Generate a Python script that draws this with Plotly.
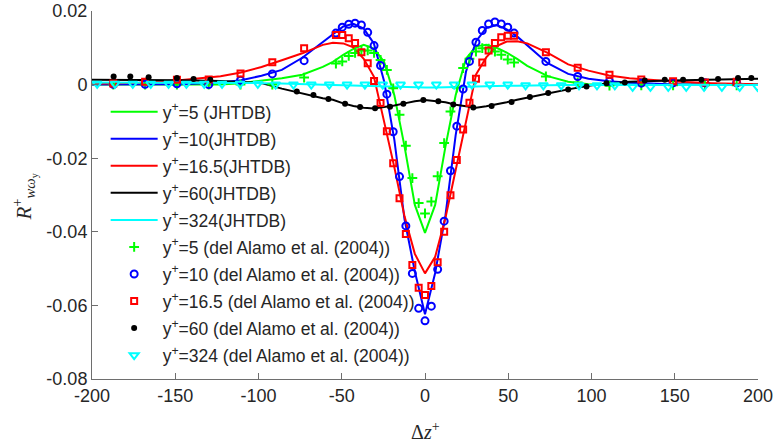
import plotly.graph_objects as go

# ---------------- data ----------------
# JHTDB curves (separation grid, dz+)
dz_jhtdb = [-200, -171.9, -147.4, -122.8, -110.5, -98.2, -86.0, -73.7, -61.4, -55.3, -49.1,
            -43.0, -36.8, -30.7, -24.6, -18.4, -12.3, -6.1, 0, 6.1, 12.3, 18.4, 24.6, 30.7,
            36.8, 43.0, 49.1, 55.3, 61.4, 73.7, 86.0, 98.2, 110.5, 122.8, 147.4, 171.9, 200]

jh_y5 = [0.0, 0.0, 0.0, 0.0, 0.0004, 0.0010, 0.0017, 0.0027, 0.0048, 0.0062, 0.0081,
         0.0097, 0.0108, 0.0098, 0.0062, -0.0029, -0.0168, -0.0327, -0.0403, -0.0327, -0.0168, -0.0029,
         0.0070, 0.0104, 0.0108, 0.0100, 0.0087, 0.0070, 0.0051, 0.0023, 0.0008, 0.0001,
         0.0, 0.0, 0.0, 0.0, 0.0]
jh_y10 = [0.0, 0.0, 0.0001, 0.0006, 0.0012, 0.0024, 0.0040, 0.0073, 0.0116, 0.0138, 0.0158,
          0.0165, 0.0152, 0.0112, 0.0010, -0.0150, -0.0366, -0.0508, -0.0624, -0.0512, -0.0355, -0.0138,
          0.0035, 0.0118, 0.0154, 0.0162, 0.0150, 0.0131, 0.0106, 0.0058, 0.0029, 0.0016,
          0.0009, 0.0005, 0.0001, 0.0, 0.0]
jh_y165 = [0.0002, 0.0005, 0.0012, 0.0023, 0.0033, 0.0048, 0.0066, 0.0085, 0.0108, 0.0114, 0.0112,
           0.0101, 0.0070, 0.0022, -0.0100, -0.0225, -0.0358, -0.0460, -0.0513, -0.0468, -0.0362, -0.0232,
           -0.0103, 0.0028, 0.0074, 0.0105, 0.0117, 0.0118, 0.0112, 0.0086, 0.0055, 0.0038,
           0.0025, 0.0017, 0.0009, 0.0004, 0.0001]
jh_y60 = [0.0013, 0.0013, 0.0012, 0.0010, 0.0007, 0.0004, -0.0011, -0.0025, -0.0037, -0.0041, -0.0051,
          -0.0058, -0.0063, -0.0065, -0.0062, -0.0057, -0.0051, -0.0045, -0.0042, -0.0044, -0.0048, -0.0055,
          -0.0060, -0.0063, -0.0059, -0.0054, -0.0048, -0.0041, -0.0035, -0.0024, -0.0013, -0.0003,
          0.0004, 0.0008, 0.0011, 0.0014, 0.0016]
jh_y324 = [0.0006, 0.0006, 0.0005, 0.0005, 0.0004, 0.0004, 0.0003, 0.0002, 0.0000, -0.0001, -0.0002,
           -0.0003, -0.0004, -0.0005, -0.0006, -0.0007, -0.0007, -0.0008, -0.0008, -0.0008, -0.0007, -0.0007,
           -0.0006, -0.0005, -0.0004, -0.0004, -0.0003, -0.0003, -0.0002, -0.0002, -0.0001, -0.0001,
           -0.0001, -0.0001, -0.0001, -0.0001, -0.0001]

# del Alamo et al. (2004) points
dz_da = [-187.2, -168.1, -149.0, -129.9, -110.8, -91.7, -72.6,
         -53.5, -49.7, -45.8, -42.0, -38.2, -34.4, -30.6, -26.7, -22.9, -19.1, -15.3, -11.5, -7.6, -3.8,
         0, 3.8, 7.6, 11.5, 15.3, 19.1, 22.9, 26.7, 30.6, 34.4, 38.2, 42.0, 45.8, 49.7, 53.5,
         72.6, 91.7, 110.8, 129.9, 149.0, 168.1, 187.2]
da_y5 = [0.0, 0.0, 0.0, 0.0, 0.0, 0.0, 0.0019,
         0.0057, 0.0063, 0.0078, 0.0086, 0.0093, 0.0093, 0.0086, 0.0067, 0.0040, -0.0010, -0.0082, -0.0166,
         -0.0254, -0.0322, -0.0350, -0.0318, -0.0249, -0.0159, -0.0073, -0.0008, 0.0045, 0.0070, 0.0090,
         0.0099, 0.0098, 0.0090, 0.0081, 0.0068, 0.0060,
         0.0022, 0.0006, -0.0003, -0.0002, -0.0002, -0.0002, -0.0002]
da_y10 = [0.0001, 0.0001, 0.0002, 0.0000, 0.0012, 0.0029, 0.0065,
          0.0140, 0.0156, 0.0164, 0.0167, 0.0162, 0.0142, 0.0106, 0.0052, -0.0026, -0.0128, -0.0250, -0.0384,
          -0.0513, -0.0608, -0.0642, -0.0602, -0.0502, -0.0371, -0.0234, -0.0113, -0.0012, 0.0063, 0.0115,
          0.0147, 0.0165, 0.0170, 0.0165, 0.0156, 0.0140,
          0.0063, 0.0022, 0.0009, 0.0004, 0.0005, 0.0005, 0.0005]
da_y165 = [0.0003, 0.0008, 0.0013, 0.0014, 0.0030, 0.0061, 0.0099,
           0.0135, 0.0135, 0.0126, 0.0113, 0.0088, 0.0058, 0.0010, -0.0050, -0.0127, -0.0214, -0.0309, -0.0406,
           -0.0490, -0.0552, -0.0572, -0.0547, -0.0483, -0.0400, -0.0301, -0.0205, -0.0122, -0.0049, 0.0016,
           0.0060, 0.0093, 0.0113, 0.0129, 0.0133, 0.0133,
           0.0088, 0.0046, 0.0027, 0.0014, 0.0009, 0.0006, 0.0008]

dz_da60 = [-187, -177, -166, -149, -139, -129, -77, -67, -58, -48, -39, -30, -21, -13, -1, 8, 17, 29,
           40, 52, 63, 74, 86, 97, 109, 120, 132, 144, 155, 166, 176, 188, 196]
da_y60 = [0.0022, 0.0022, 0.0020, 0.0018, 0.0015, 0.0013, -0.0019, -0.0028, -0.0039, -0.0052, -0.0061,
          -0.0064, -0.0060, -0.0052, -0.0042, -0.0045, -0.0054, -0.0062, -0.0058, -0.0047, -0.0034,
          -0.0023, -0.0013, -0.0005, 0.0004, 0.0006, 0.0011, 0.0013, 0.0013, 0.0013, 0.0015, 0.0018, 0.0018]

dz_da324 = [-196.9, -186.2, -175.5, -164.7, -154.0, -143.3, -132.6, -121.9, -111.1, -100.4, -89.7,
            -79.0, -68.3, -57.5, -46.8, -36.1, -25.4, -14.7, -3.9, 6.8, 17.5, 28.2, 38.9, 49.7, 60.4,
            71.1, 81.8, 92.5, 103.3, 114.0, 124.7, 135.4, 146.1, 156.9, 167.6, 178.3, 189.0, 199.7]
da_y324 = [0.0002] * 10 + [0.0000] * 14 + [-0.0002] * 6 + [-0.0006] * 8

x_ticks = [-200, -150, -100, -50, 0, 50, 100, 150, 200]
x_ticktext = ["-200", "-150", "-100", "-50", "0", "50", "100", "150", "200"]
y_ticks = [-0.08, -0.06, -0.04, -0.02, 0, 0.02]
y_ticktext = ["-0.08", "-0.06", "-0.04", "-0.02", "0", "0.02"]

# ---------------- figure ----------------
GREEN, BLUE, RED, BLACK, CYAN = "#00ff00", "#0000ff", "#ff0000", "#000000", "#00ffff"

fig = go.Figure()
lines = [
    (jh_y5, GREEN, "y<sup>+</sup>=5 (JHTDB)"),
    (jh_y10, BLUE, "y<sup>+</sup>=10(JHTDB)"),
    (jh_y165, RED, "y<sup>+</sup>=16.5(JHTDB)"),
    (jh_y60, BLACK, "y<sup>+</sup>=60(JHTDB)"),
    (jh_y324, CYAN, "y<sup>+</sup>=324(JHTDB)"),
]
for i, (vals, col, name) in enumerate(lines):
    fig.add_trace(go.Scatter(x=dz_jhtdb, y=vals, mode="lines", name=name,
                             line=dict(color=col, width=2), legendgroup=f"g{i}"))

markers = [
    (dz_da, da_y5, GREEN, "cross-thin", 7, 2, "y<sup>+</sup>=5 (del Alamo et al. (2004))"),
    (dz_da, da_y10, BLUE, "circle-open", 7, 2, "y<sup>+</sup>=10 (del Alamo et al. (2004))"),
    (dz_da, da_y165, RED, "square-open", 6, 2, "y<sup>+</sup>=16.5 (del Alamo et al. (2004))"),
    (dz_da60, da_y60, BLACK, "circle", 6, 0, "y<sup>+</sup>=60 (del Alamo et al. (2004))"),
    (dz_da324, da_y324, CYAN, "triangle-down-open", 8, 2, "y<sup>+</sup>=324 (del Alamo et al. (2004))"),
]
for j, (xs, vals, col, sym, sz, lw, name) in enumerate(markers):
    fig.add_trace(go.Scatter(x=xs, y=vals, mode="markers", name=name,
                             marker=dict(color=col, symbol=sym, size=sz,
                                         line=dict(color=col, width=lw)),
                             legendgroup=f"m{j}"))

FONT = "Liberation Sans, Arial, sans-serif"
fig.update_layout(
    width=775, height=442,
    margin=dict(l=92, r=17, t=11, b=63, autoexpand=False),
    plot_bgcolor="white", paper_bgcolor="white",
    font=dict(family=FONT, size=18, color="#262626"),
    showlegend=True,
    legend=dict(x=0.0205, y=0.775, xanchor="left", yanchor="top",
                bgcolor="rgba(0,0,0,0)", borderwidth=0,
                font=dict(family=FONT, size=17.5, color="#262626"),
                itemwidth=47, tracegroupgap=1.3, traceorder="grouped"),
    xaxis=dict(range=[-200, 200], tickvals=x_ticks, ticktext=x_ticktext,
               ticks="inside", ticklen=6, tickcolor="#6e6e6e", showline=True,
               linecolor="#6e6e6e", linewidth=1, showgrid=False, zeroline=False,
               tickfont=dict(size=18, color="#262626")),
    yaxis=dict(range=[-0.08, 0.02], tickvals=y_ticks, ticktext=y_ticktext,
               ticks="inside", ticklen=6, tickcolor="#6e6e6e", showline=True,
               linecolor="#6e6e6e", linewidth=1, showgrid=False, zeroline=False,
               tickfont=dict(size=18, color="#262626")),
    annotations=[
        dict(text="Δ<i>z</i><sup>+</sup>", xref="paper", yref="paper", x=0.5, y=-0.14,
             xanchor="center", yanchor="middle", showarrow=False,
             font=dict(family="Liberation Serif, serif", size=20, color="#262626")),
        dict(text="<i>R</i><sup>+</sup><sub><i>wω</i><sub>y</sub></sub>", xref="paper", yref="paper",
             x=-0.101, y=0.495, xanchor="center", yanchor="middle", textangle=-90,
             showarrow=False,
             font=dict(family="Liberation Serif, serif", size=21, color="#262626")),
    ],
)

fig.write_html("out.html", config={"displayModeBar": False},
               post_script="document.body.style.margin='0';document.body.style.overflow='hidden';")
